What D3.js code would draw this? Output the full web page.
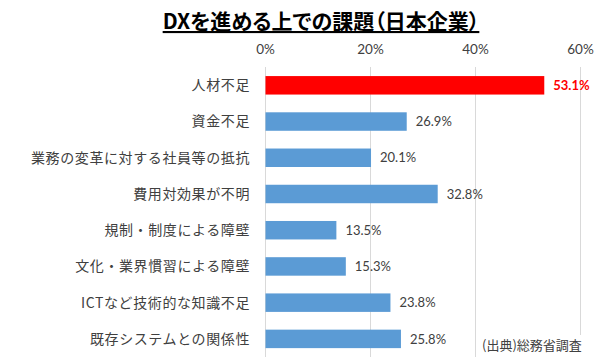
<!DOCTYPE html>
<html><head><meta charset="utf-8">
<script src="https://cdn.jsdelivr.net/npm/d3@7"></script>
<style>
html,body{margin:0;padding:0;background:#fff;}
svg{display:block;}
</style></head>
<body>
<svg id="chart" width="610" height="357"></svg>
<script>
const title = "DXを進める上での課題（日本企業）";
const categories = ["人材不足","資金不足","業務の変革に対する社員等の抵抗","費用対効果が不明","規制・制度による障壁","文化・業界慣習による障壁","ICTなど技術的な知識不足","既存システムとの関係性"];
const values = [53.1, 26.9, 20.1, 32.8, 13.5, 15.3, 23.8, 25.8];
const highlight = [true, false, false, false, false, false, false, false];
const tickValues = [0, 20, 40, 60];
const tickLabels = ["0%","20%","40%","60%"];
const source = "(出典)総務省調査";

const svg = d3.select("#chart");
const jp = "'Noto Sans CJK JP','Noto Sans',sans-serif";
const num = "Lato,'Open Sans',sans-serif";

const x = d3.scaleLinear().domain([0,60]).range([265.5,580.5]);
const y = d3.scaleBand().domain(categories).range([67.2,357]).paddingInner(0.49).paddingOuter(0.245);

// gridlines
svg.append("g").selectAll("line").data(tickValues).join("line")
  .attr("x1",d=>x(d)).attr("x2",d=>x(d)).attr("y1",67).attr("y2",357)
  .attr("stroke","#d9d9d9").attr("stroke-width",1);

// tick labels
svg.append("g").selectAll("text").data(tickValues).join("text")
  .attr("x",d=>x(d)).attr("y",54).attr("text-anchor","middle")
  .attr("font-family",num).attr("font-size",13.5).attr("fill","#404040")
  .text((d,i)=>tickLabels[i]);

// bars
svg.append("g").selectAll("rect").data(values).join("rect")
  .attr("x",x(0)).attr("y",(d,i)=>y(categories[i]))
  .attr("width",d=>x(d)-x(0)).attr("height",y.bandwidth())
  .attr("fill",(d,i)=>highlight[i]?"#ff0000":"#5b9bd5");

// category labels
svg.append("g").selectAll("text").data(categories).join("text")
  .attr("x",250).attr("y",d=>y(d)+y.bandwidth()/2).attr("dy","0.35em")
  .attr("text-anchor","end").attr("font-family",jp).attr("font-size",14)
  .attr("letter-spacing","0.6px").attr("fill","#404040").text(d=>d);

// value labels
svg.append("g").selectAll("text").data(values).join("text")
  .attr("x",d=>x(d)+9).attr("y",(d,i)=>y(categories[i])+y.bandwidth()/2).attr("dy","0.36em")
  .attr("font-family",num).attr("font-size",13)
  .attr("font-weight",(d,i)=>highlight[i]?"bold":"normal")
  .attr("fill",(d,i)=>highlight[i]?"#ff0000":"#404040")
  .text(d=>d.toFixed(1)+"%");

// source
const src = svg.append("g");
src.append("rect").attr("x",478).attr("y",335).attr("width",114).attr("height",22).attr("fill","#fff");
src.append("text").attr("x",482).attr("y",350).attr("font-family",jp).attr("font-size",13)
  .attr("fill","#404040").text(source);

// title
svg.append("text").attr("x",321).attr("y",29).attr("text-anchor","middle")
  .attr("font-family",jp).attr("font-size",21).attr("font-weight","bold")
  .style("font-feature-settings","'palt' 1")
  .attr("fill","#000").attr("text-decoration","underline").text(title);
</script>
</body></html>
